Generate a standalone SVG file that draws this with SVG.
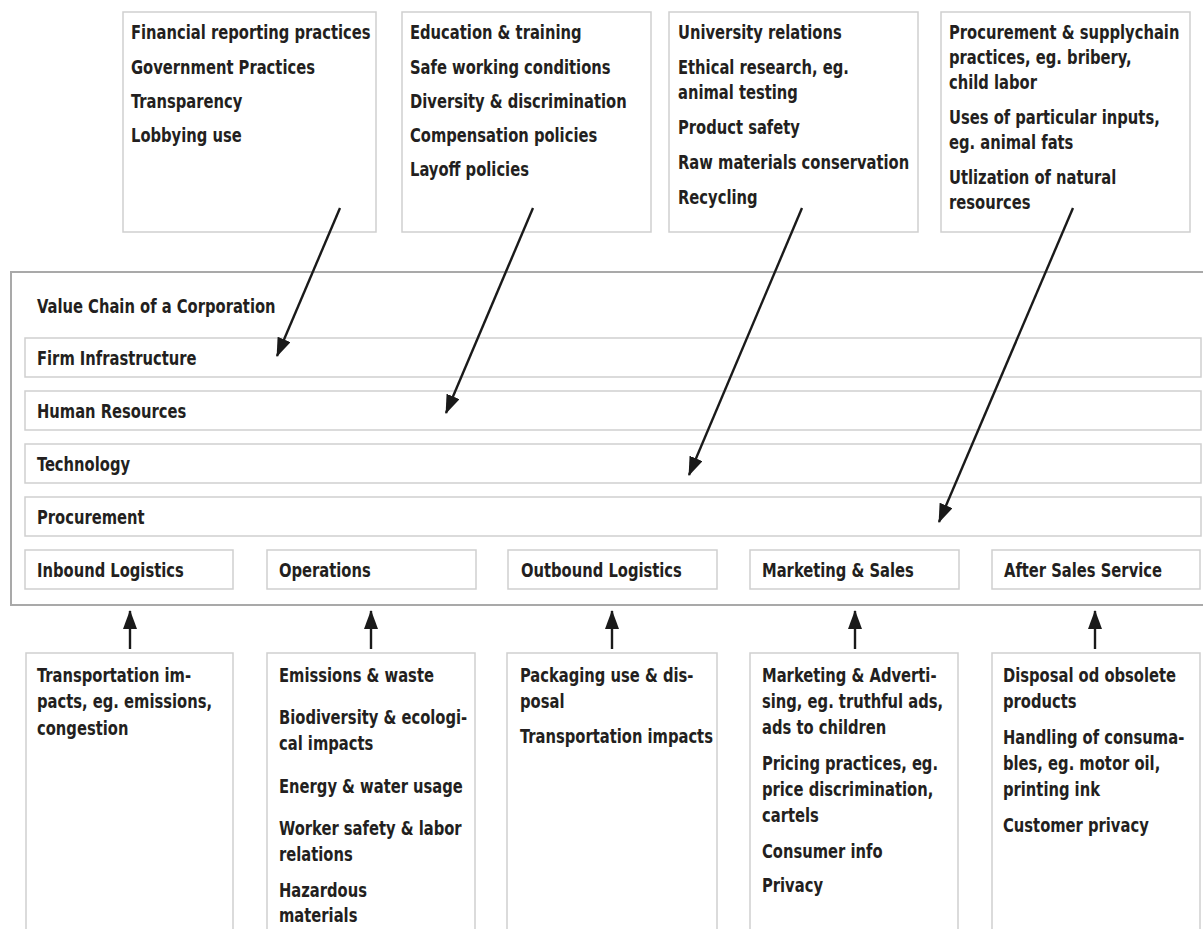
<svg xmlns="http://www.w3.org/2000/svg" width="1203" height="929" viewBox="0 0 1203 929">
<defs>
<style>
text{font-family:"DejaVu Sans Condensed","Liberation Sans Narrow","Liberation Sans",sans-serif;font-weight:bold;font-size:20px;fill:#231f20}
.box{fill:#fff;stroke:#cfcfcf;stroke-width:1.5}
.outer{fill:#fff;stroke:#a9a9a9;stroke-width:2}
.arr{stroke:#1a1a1a;stroke-width:2.4;fill:none}
</style>
<marker id="ah" viewBox="0 0 19 14" refX="18" refY="7" markerWidth="19" markerHeight="14" markerUnits="userSpaceOnUse" orient="auto">
<path d="M0,0 L19,7 L0,14 Z" fill="#1a1a1a"/>
</marker>
</defs>
<rect width="1203" height="929" fill="#fff"/>

<g id="top1"><rect class="box" x="123" y="12" width="253" height="220"/>
<g transform="translate(131,0) scale(0.82,1)">
<text x="0" y="39">Financial reporting practices</text>
<text x="0" y="74">Government Practices</text>
<text x="0" y="108">Transparency</text>
<text x="0" y="142">Lobbying use</text></g></g>

<g id="top2"><rect class="box" x="402" y="12" width="249" height="220"/>
<g transform="translate(410,0) scale(0.82,1)">
<text x="0" y="39">Education &amp; training</text>
<text x="0" y="74">Safe working conditions</text>
<text x="0" y="108">Diversity &amp; discrimination</text>
<text x="0" y="142">Compensation policies</text>
<text x="0" y="176">Layoff policies</text></g></g>

<g id="top3"><rect class="box" x="669" y="12" width="249" height="220"/>
<g transform="translate(678,0) scale(0.82,1)">
<text x="0" y="39">University relations</text>
<text x="0" y="74">Ethical research, eg.</text>
<text x="0" y="99">animal testing</text>
<text x="0" y="134">Product safety</text>
<text x="0" y="169">Raw materials conservation</text>
<text x="0" y="204">Recycling</text></g></g>

<g id="top4"><rect class="box" x="941" y="12" width="249" height="220"/>
<g transform="translate(949,0) scale(0.82,1)">
<text x="0" y="39">Procurement &amp; supplychain</text>
<text x="0" y="64">practices, eg. bribery,</text>
<text x="0" y="89">child labor</text>
<text x="0" y="124">Uses of particular inputs,</text>
<text x="0" y="149">eg. animal fats</text>
<text x="0" y="184">Utlization of natural</text>
<text x="0" y="209">resources</text></g></g>

<g id="valuechain"><rect class="outer" x="11" y="272" width="1210" height="333"/>
<text transform="translate(37,0) scale(0.82,1)" x="0" y="313">Value Chain of a Corporation</text></g>

<g id="firm"><rect class="box" x="25" y="338" width="1176" height="39"/><text transform="translate(37,0) scale(0.82,1)" x="0" y="365">Firm Infrastructure</text></g>
<g id="hr"><rect class="box" x="25" y="391" width="1176" height="39"/><text transform="translate(37,0) scale(0.82,1)" x="0" y="418">Human Resources</text></g>
<g id="tech"><rect class="box" x="25" y="444" width="1176" height="39"/><text transform="translate(37,0) scale(0.82,1)" x="0" y="471">Technology</text></g>
<g id="proc"><rect class="box" x="25" y="497" width="1176" height="39"/><text transform="translate(37,0) scale(0.82,1)" x="0" y="524">Procurement</text></g>

<g id="inbound"><rect class="box" x="25" y="550" width="208" height="39"/><text transform="translate(37,0) scale(0.82,1)" x="0" y="577">Inbound Logistics</text></g>
<g id="operations"><rect class="box" x="267" y="550" width="209" height="39"/><text transform="translate(279,0) scale(0.82,1)" x="0" y="577">Operations</text></g>
<g id="outbound"><rect class="box" x="508" y="550" width="209" height="39"/><text transform="translate(521,0) scale(0.82,1)" x="0" y="577">Outbound Logistics</text></g>
<g id="marketing"><rect class="box" x="750" y="550" width="209" height="39"/><text transform="translate(762,0) scale(0.82,1)" x="0" y="577">Marketing &amp; Sales</text></g>
<g id="aftersales"><rect class="box" x="992" y="550" width="208" height="39"/><text transform="translate(1004,0) scale(0.82,1)" x="0" y="577">After Sales Service</text></g>

<g id="bot1"><rect class="box" x="26" y="653" width="207" height="320"/>
<g transform="translate(37,0) scale(0.82,1)">
<text x="0" y="682">Transportation im-</text>
<text x="0" y="708">pacts, eg. emissions,</text>
<text x="0" y="735">congestion</text></g></g>

<g id="bot2"><rect class="box" x="267" y="653" width="208" height="320"/>
<g transform="translate(279,0) scale(0.82,1)">
<text x="0" y="682">Emissions &amp; waste</text>
<text x="0" y="724">Biodiversity &amp; ecologi-</text>
<text x="0" y="750">cal impacts</text>
<text x="0" y="793">Energy &amp; water usage</text>
<text x="0" y="835">Worker safety &amp; labor</text>
<text x="0" y="861">relations</text>
<text x="0" y="897">Hazardous</text>
<text x="0" y="922">materials</text></g></g>

<g id="bot3"><rect class="box" x="507" y="653" width="210" height="320"/>
<g transform="translate(520,0) scale(0.82,1)">
<text x="0" y="682">Packaging use &amp; dis-</text>
<text x="0" y="708">posal</text>
<text x="0" y="743">Transportation impacts</text></g></g>

<g id="bot4"><rect class="box" x="750" y="653" width="208" height="320"/>
<g transform="translate(762,0) scale(0.82,1)">
<text x="0" y="682">Marketing &amp; Adverti-</text>
<text x="0" y="708">sing, eg. truthful ads,</text>
<text x="0" y="734">ads to children</text>
<text x="0" y="770">Pricing practices, eg.</text>
<text x="0" y="796">price discrimination,</text>
<text x="0" y="822">cartels</text>
<text x="0" y="858">Consumer info</text>
<text x="0" y="892">Privacy</text></g></g>

<g id="bot5"><rect class="box" x="992" y="653" width="208" height="320"/>
<g transform="translate(1003,0) scale(0.82,1)">
<text x="0" y="682">Disposal od obsolete</text>
<text x="0" y="708">products</text>
<text x="0" y="744">Handling of consuma-</text>
<text x="0" y="770">bles, eg. motor oil,</text>
<text x="0" y="796">printing ink</text>
<text x="0" y="832">Customer privacy</text></g></g>

<g id="connectors">
<line class="arr" x1="340" y1="208" x2="277" y2="356" marker-end="url(#ah)"/>
<line class="arr" x1="533" y1="208" x2="446" y2="413" marker-end="url(#ah)"/>
<line class="arr" x1="802" y1="208" x2="689" y2="475" marker-end="url(#ah)"/>
<line class="arr" x1="1073" y1="208" x2="939" y2="522" marker-end="url(#ah)"/>
<line class="arr" x1="130" y1="649" x2="130" y2="611" marker-end="url(#ah)"/>
<line class="arr" x1="371" y1="649" x2="371" y2="611" marker-end="url(#ah)"/>
<line class="arr" x1="612" y1="649" x2="612" y2="611" marker-end="url(#ah)"/>
<line class="arr" x1="855" y1="649" x2="855" y2="611" marker-end="url(#ah)"/>
<line class="arr" x1="1095" y1="649" x2="1095" y2="611" marker-end="url(#ah)"/>
</g>
</svg>
